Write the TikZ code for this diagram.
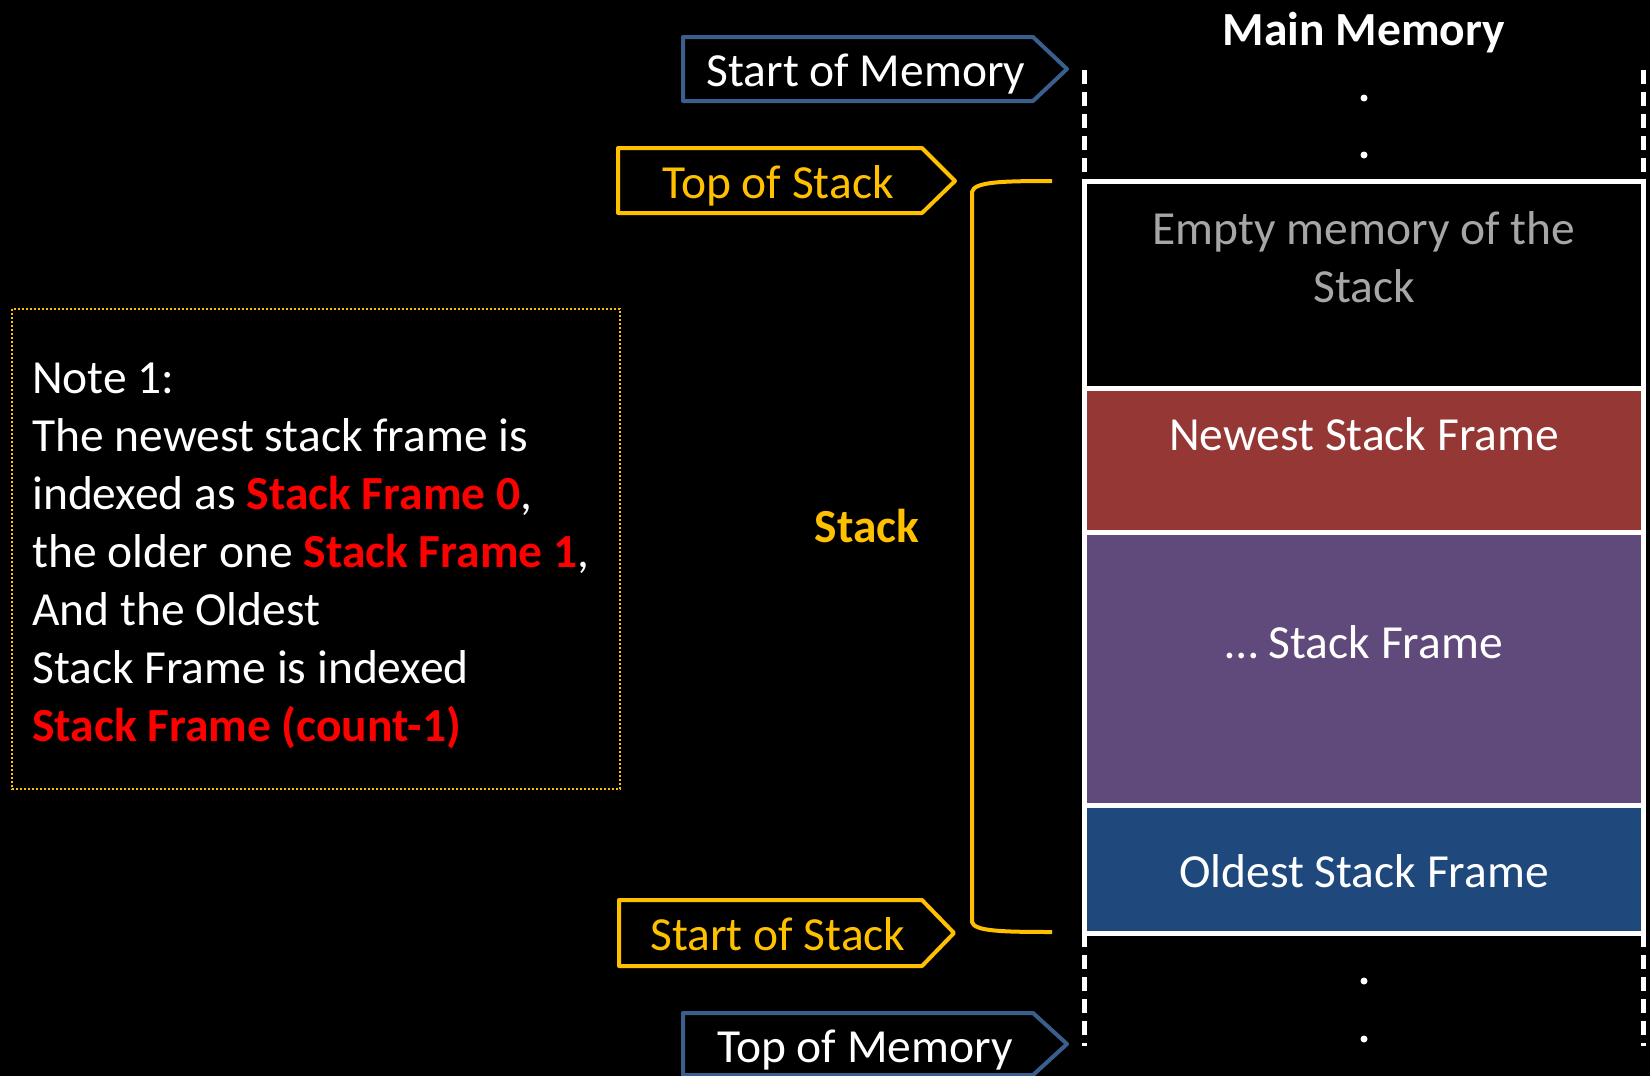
\documentclass[tikz,border=0pt]{standalone}
\usepackage{fontspec}
\setmainfont{Carlito}
\definecolor{tagblue}{RGB}{58,95,140}
\definecolor{tagyellow}{RGB}{255,192,0}
\definecolor{framered}{RGB}{149,55,53}
\definecolor{framepurple}{RGB}{96,74,123}
\definecolor{frameblue}{RGB}{31,73,125}
\definecolor{emptygray}{RGB}{166,166,166}
\definecolor{notered}{RGB}{255,0,0}
\newcommand{\redb}[1]{\textcolor{notered}{\bfseries #1}}
\begin{document}
\begin{tikzpicture}[x=1pt,y=-1pt,
  lbl/.style={font=\fontsize{47.5}{57.5}\selectfont, inner sep=0pt, anchor=base},
  notel/.style={font=\fontsize{47.5}{57.5}\selectfont, inner sep=0pt, anchor=base west, text=white},
  tagline/.style={line width=4pt, line join=round},
  memframe/.style={draw=white, line width=5pt, inner sep=0pt, outer sep=0pt, minimum width=559pt},
  memdash/.style={draw=white, line width=5pt, dash pattern=on 14pt off 8pt},
  memdot/.style={fill=white}
]
\useasboundingbox (0,0) rectangle (1650,1076);
\fill[black] (0,0) rectangle (1650,1076);

% Note box
\draw[tagyellow, line width=2pt, dotted] (12,309) rectangle (620,789);
\node[notel] (n1) at (32,393) {Note 1:};
\node[notel] (n2) at (32,451) {The newest stack frame is};
\node[notel] (n3) at (32,509) {indexed as \redb{Stack Frame 0},};
\node[notel] (n4) at (32,567) {the older one \redb{Stack Frame 1},};
\node[notel] (n5) at (32,625) {And the Oldest};
\node[notel] (n6) at (32,683) {Stack Frame is indexed};
\node[notel] (n7) at (32,741) {\redb{Stack Frame (count-1)}};

% Tags (pentagon arrows)
\draw[tagline, draw=tagblue] (683,37) -- (1033,37) -- (1067,69) -- (1033,101) -- (683,101) -- cycle;
\node[lbl, text=white] (som) at (866,86) {Start of Memory};
\draw[tagline, draw=tagyellow] (618,148) -- (922,148) -- (955,181) -- (922,213) -- (618,213) -- cycle;
\node[lbl, text=tagyellow] (tos) at (778,198) {Top of Stack};
\draw[tagline, draw=tagyellow] (619,900) -- (922,900) -- (954,933) -- (922,966) -- (619,966) -- cycle;
\node[lbl, text=tagyellow] (sos) at (778,950) {Start of Stack};
\draw[tagline, draw=tagblue] (683,1013) -- (1033,1013) -- (1067,1044) -- (1033,1075) -- (683,1075) -- cycle;
\node[lbl, text=white] (tom) at (865,1062) {Top of Memory};

% Stack bracket
\coordinate (brtop) at (1052,181);
\coordinate (brbot) at (1052,932);
\draw[tagyellow, line width=4pt] (brtop) .. controls (1000,181) and (974,182) .. (972,192) -- (972,922) .. controls (974,931) and (1000,932) .. (brbot);
\node[lbl, font=\fontsize{47.5}{57.5}\selectfont\bfseries, text=tagyellow] (stk) at (867,542) {Stack};

% Main memory
\node[lbl, font=\fontsize{47.5}{57.5}\selectfont\bfseries, text=white] (mm) at (1364,45) {Main Memory};
\draw[memdash] (1084,70) -- (1084,181);
\draw[memdash] (1643,70) -- (1643,181);
\draw[memdash] (1084,933) -- (1084,1046);
\draw[memdash] (1643,933) -- (1643,1046);
\fill[memdot] (1364,98) circle (3.5);
\fill[memdot] (1364,155) circle (3.5);
\fill[memdot] (1364,981) circle (3.5);
\fill[memdot] (1364,1039) circle (3.5);

\node[memframe, fill=black, minimum height=207pt] (empty) at (1363.5,284.5) {};
\node[memframe, fill=framered, minimum height=144pt] (newest) at (1363.5,460) {};
\node[memframe, fill=framepurple, minimum height=273pt] (mid) at (1363.5,668.5) {};
\node[memframe, fill=frameblue, minimum height=128pt] (oldest) at (1363.5,869) {};

\node[lbl, text=emptygray] (et1) at (1364,244) {Empty memory of the};
\node[lbl, text=emptygray] (et2) at (1364,302) {Stack};
\node[lbl, text=white] (nt) at (1364,450) {Newest Stack Frame};
\node[lbl, text=white] (mt) at (1364,658) {\dots\ Stack Frame};
\node[lbl, text=white] (ot) at (1364,887) {Oldest Stack Frame};
\end{tikzpicture}
\end{document}
